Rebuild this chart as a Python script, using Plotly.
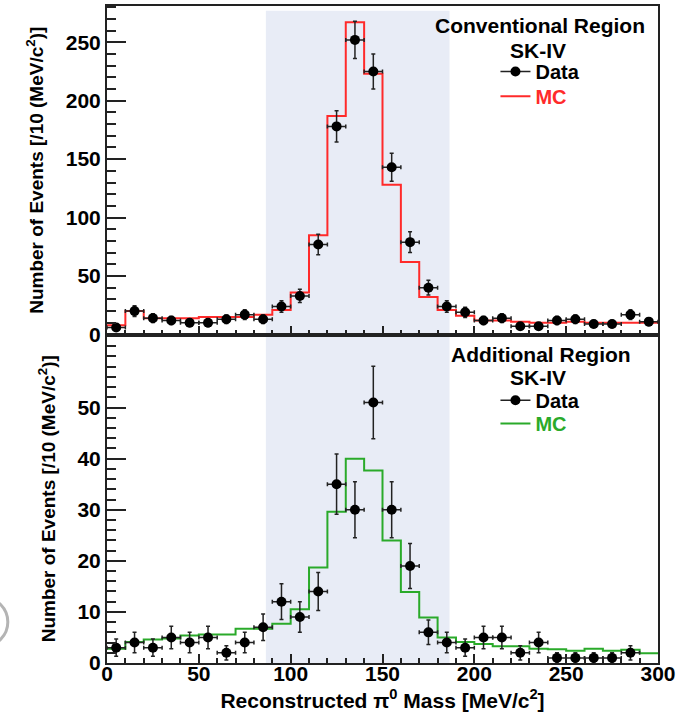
import numpy as np
import plotly.graph_objects as go
from plotly.subplots import make_subplots

# ---------------- data ----------------
bin_centers = [5, 15, 25, 35, 45, 55, 65, 75, 85, 95, 105, 115, 125, 135, 145,
               155, 165, 175, 185, 195, 205, 215, 225, 235, 245, 255, 265, 275, 285, 295]
bin_edges = list(range(0, 310, 10))
bin_half_width = [5] * len(bin_centers)

# Conventional region (top panel)
conv_data = [6, 20, 14, 12, 10, 10, 13, 17, 13, 24, 33, 77, 178, 252, 225,
             143, 79, 40, 24, 19, 12, 14, 7, 7, 12, 13, 9, 9, 17, 11]
conv_err = [2.5, 4.5, 3.7, 3.5, 3.2, 3.2, 3.6, 4.1, 3.6, 4.9, 5.7, 8.8, 13.3, 15.9, 15.0,
            12.0, 8.9, 6.3, 4.9, 4.4, 3.5, 3.7, 2.6, 2.6, 3.5, 3.6, 3.0, 3.0, 4.1, 3.3]
conv_mc = [8, 20, 14, 14, 14, 15, 15, 15, 17, 21, 36, 85, 187, 267, 223,
           128, 62, 32, 21, 16, 12, 12, 11, 10, 10, 11, 10, 10, 10, 10]

# Additional region (bottom panel)
add_data = [3, 4, 3, 5, 4, 5, 2, 4, 7, 12, 9, 14, 35, 30, 51,
            30, 19, 6, 4, 3, 5, 5, 2, 4, 1, 1, 1, 1, 2, None]
add_err = [1.7, 2.0, 1.7, 2.2, 2.0, 2.2, 1.4, 2.0, 2.6, 3.5, 3.0, 3.7, 5.9, 5.5, 7.1,
           5.5, 4.4, 2.4, 2.0, 1.7, 2.2, 2.2, 1.4, 2.0, 1.0, 1.0, 1.0, 1.0, 1.4, None]
add_mc = [2.8, 4.1, 4.6, 4.8, 5.4, 5.6, 5.6, 6.7, 6.7, 7.7, 10.5, 18.7, 29.6, 40.0, 37.7,
          24.0, 13.9, 8.9, 5.0, 4.1, 3.7, 3.3, 3.3, 2.8, 2.7, 2.4, 2.8, 2.4, 2.6, 1.9]

signal_window = [86.5, 186.5]

top_yticks = [0, 50, 100, 150, 200, 250]
bot_yticks = [0, 10, 20, 30, 40, 50, 60]
bot_yticktext = ["0", "10", "20", "30", "40", "50", ""]
x_ticks = [0, 50, 100, 150, 200, 250, 300]

# ---------------- style ----------------
FONT = "Liberation Sans, Arial, Helvetica, sans-serif"
RED = "#ff2a2a"
GREEN = "#2aaa2a"
AXC = "#222222"
SHADE = "#e8ecf6"

fig = make_subplots(rows=2, cols=1, shared_xaxes=True, vertical_spacing=0)


def step_y(vals):
    return list(vals) + [vals[-1]]


def add_panel(row, mc, data, err, mc_color, data_legend, mc_legend):
    fig.add_trace(go.Scatter(
        x=bin_edges, y=step_y(mc), mode="lines", line=dict(shape="hv", color=mc_color, width=2),
        name=f"<span style='color:{mc_color}'>MC</span>", legend=mc_legend,
        hoverinfo="skip"), row=row, col=1)
    fig.add_trace(go.Scatter(
        x=bin_centers, y=data, mode="markers",
        marker=dict(color="black", size=10),
        error_y=dict(type="data", array=err, color=AXC, thickness=1.5, width=2),
        error_x=dict(type="data", array=bin_half_width, color=AXC, thickness=1.5, width=2),
        showlegend=False), row=row, col=1)
    fig.add_trace(go.Scatter(
        x=[None], y=[None], mode="lines+markers", name="Data",
        line=dict(color=AXC, width=1.5), marker=dict(color="black", size=10),
        legend=data_legend), row=row, col=1)


add_panel(1, conv_mc, conv_data, conv_err, RED, "legend", "legend3")
add_panel(2, add_mc, add_data, add_err, GREEN, "legend2", "legend4")

# shaded signal window
fig.add_shape(type="rect", xref="x", yref="y", x0=signal_window[0], x1=signal_window[1],
              y0=0, y1=277, fillcolor=SHADE, line=dict(width=0), layer="below")
fig.add_shape(type="rect", xref="x2", yref="y2 domain", x0=signal_window[0], x1=signal_window[1],
              y0=0, y1=1, fillcolor=SHADE, line=dict(width=0), layer="below")

# stray gray arc at the left border of the picture
fig.add_shape(type="circle", xref="paper", yref="paper",
              x0=-0.27, x1=-0.18, y0=0.025, y1=0.10,
              line=dict(color="#b4b4b4", width=3), layer="above")

tickfont = dict(family=FONT, size=21, color="black", weight="bold")
xaxis_common = dict(range=[0, 300], showline=True, linecolor=AXC, linewidth=2, mirror=True,
                    ticks="inside", ticklen=9, tickwidth=1.5, tickcolor=AXC,
                    tickvals=x_ticks, showgrid=False, zeroline=False,
                    minor=dict(dtick=10, tick0=0, ticks="inside", ticklen=5, tickwidth=1.5,
                               tickcolor=AXC, showgrid=False))
fig.update_xaxes(**xaxis_common)
fig.update_xaxes(showticklabels=False, row=1, col=1)
fig.update_xaxes(showticklabels=True, tickfont=tickfont, ticklabelstandoff=-9, row=2, col=1,
                 title=dict(text="Reconstructed π<sup>0</sup> Mass [MeV/c<sup>2</sup>]",
                            font=dict(family=FONT, size=21, color="black", weight="bold"),
                            standoff=9))

ytitle = "Number of Events [/10 (MeV/c<sup>2</sup>)]"
yaxis_common = dict(showline=True, linecolor=AXC, linewidth=2, mirror=True,
                    ticks="inside", ticklen=19, tickwidth=1.5, tickcolor=AXC,
                    showgrid=False, zeroline=False, tickfont=tickfont,
                    title=dict(text=ytitle, font=dict(family=FONT, size=19, color="black",
                                                      weight="bold"), standoff=17))
fig.update_yaxes(**yaxis_common)
fig.update_yaxes(range=[0, 281], domain=[0.5, 1], tickvals=top_yticks,
                 minor=dict(dtick=10, tick0=0, ticks="inside", ticklen=9, tickwidth=1.5,
                            tickcolor=AXC, showgrid=False), row=1, col=1)
fig.update_yaxes(range=[0, 64.3], domain=[0, 0.5], tickvals=bot_yticks, ticktext=bot_yticktext,
                 minor=dict(tickvals=list(range(0, 64, 2)), ticks="inside", ticklen=9,
                            tickwidth=1.5, tickcolor=AXC, showgrid=False), row=2, col=1)

legend_font = dict(family=FONT, size=20, color="black", weight="bold")
ann_font = dict(family=FONT, size=21, color="black", weight="bold")


def leg(y):
    return dict(x=0.705, y=y, xanchor="left", yanchor="top", bgcolor="rgba(0,0,0,0)",
                font=legend_font)


fig.update_layout(
    width=700, height=713,
    margin=dict(l=107, r=42, t=6, b=50, autoexpand=False),
    paper_bgcolor="white", plot_bgcolor="white",
    font=dict(family=FONT, color="black"),
    legend=leg(0.930),
    legend3=leg(0.8925),
    legend2=leg(0.4297),
    legend4=leg(0.3942),
    annotations=[
        dict(text="Conventional Region", x=0.786, y=0.9696, xref="paper", yref="paper",
             xanchor="center", yanchor="middle", showarrow=False, font=ann_font),
        dict(text="SK-IV", x=0.783, y=0.933, xref="paper", yref="paper",
             xanchor="center", yanchor="middle", showarrow=False, font=ann_font),
        dict(text="Additional Region", x=0.787, y=0.470, xref="paper", yref="paper",
             xanchor="center", yanchor="middle", showarrow=False, font=ann_font),
        dict(text="SK-IV", x=0.783, y=0.434, xref="paper", yref="paper",
             xanchor="center", yanchor="middle", showarrow=False, font=ann_font),
    ],
    showlegend=True,
)

fig.write_html("out.html")
